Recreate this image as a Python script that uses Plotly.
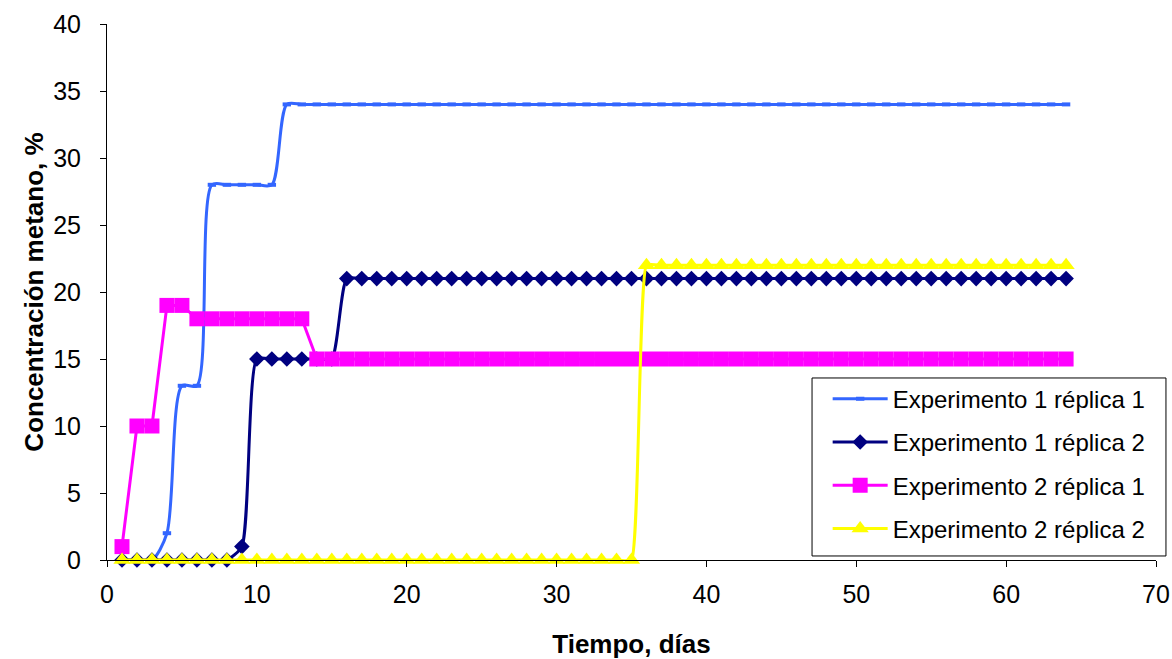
import plotly.graph_objects as go

dias = list(range(1, 65))

exp1_rep1 = [0, 0, 0, 2, 13, 13, 28, 28, 28, 28, 28, 34] + [34] * 52
exp1_rep2 = [0, 0, 0, 0, 0, 0, 0, 0, 1, 15, 15, 15, 15, 15, 15, 21] + [21] * 48
exp2_rep1 = [1, 10, 10, 19, 19, 18, 18, 18, 18, 18, 18, 18, 18, 15] + [15] * 50
exp2_rep2 = [0] * 35 + [22] * 29

FONT = "Liberation Sans, Arial, sans-serif"

fig = go.Figure()

fig.add_trace(go.Scatter(
    x=dias, y=exp1_rep1, name="Experimento 1 réplica 1", mode="lines+markers",
    legendgroup="a",
    line=dict(color="#3366FF", width=3, shape="spline", smoothing=0.8),
    marker=dict(symbol="line-ew", size=6, line=dict(color="#3366FF", width=4)),
    cliponaxis=False,
))
fig.add_trace(go.Scatter(
    x=dias, y=exp1_rep2, name="Experimento 1 réplica 2", mode="lines+markers",
    legendgroup="b",
    line=dict(color="#000080", width=3, shape="spline", smoothing=0.6),
    marker=dict(symbol="diamond", size=12, color="#000080"),
    cliponaxis=False,
))
fig.add_trace(go.Scatter(
    x=dias, y=exp2_rep1, name="Experimento 2 réplica 1", mode="lines+markers",
    legendgroup="c",
    line=dict(color="#FF00FF", width=3),
    marker=dict(symbol="square", size=15, color="#FF00FF"),
    cliponaxis=False,
))
fig.add_trace(go.Scatter(
    x=dias, y=exp2_rep2, name="Experimento 2 réplica 2", mode="lines+markers",
    legendgroup="d",
    line=dict(color="#FFFF00", width=3, shape="spline", smoothing=0.4),
    marker=dict(symbol="triangle-up", size=15, color="#FFFF00"),
    cliponaxis=False,
))

# legend frame
fig.add_shape(
    type="rect", xref="paper", yref="paper",
    x0=0.6721, x1=1.0095, y0=0.0075, y1=0.3396,
    line=dict(color="black", width=1), fillcolor="white", layer="above",
)

fig.update_layout(
    width=1172, height=659,
    margin=dict(l=107, r=16, t=24, b=99),
    paper_bgcolor="white", plot_bgcolor="white",
    font=dict(family=FONT, size=25, color="black"),
    showlegend=True,
    legend=dict(
        x=0.687, y=0.342, xanchor="left", yanchor="top",
        borderwidth=0, bgcolor="rgba(0,0,0,0)",
        font=dict(family=FONT, size=24, color="black"),
        tracegroupgap=9, itemwidth=55,
    ),
    xaxis=dict(
        range=[0, 70], dtick=10, tick0=0, automargin=False,
        showline=True, linecolor="black", linewidth=1,
        ticks="outside", ticklen=6, tickcolor="black",
        showgrid=False, zeroline=False,
        ticklabelstandoff=6,
        tickfont=dict(family=FONT, size=25),
        title=dict(text="<b>Tiempo, días</b>", font=dict(family=FONT, size=26), standoff=29),
    ),
    yaxis=dict(
        range=[0, 40], dtick=5, tick0=0, automargin=False,
        showline=True, linecolor="black", linewidth=1,
        ticks="outside", ticklen=6, tickcolor="black",
        showgrid=False, zeroline=False,
        ticklabelstandoff=14,
        tickfont=dict(family=FONT, size=25),
        title=dict(text="<b>Concentración metano, %</b>", font=dict(family=FONT, size=26), standoff=2),
    ),
)

fig.write_html("out.html")
